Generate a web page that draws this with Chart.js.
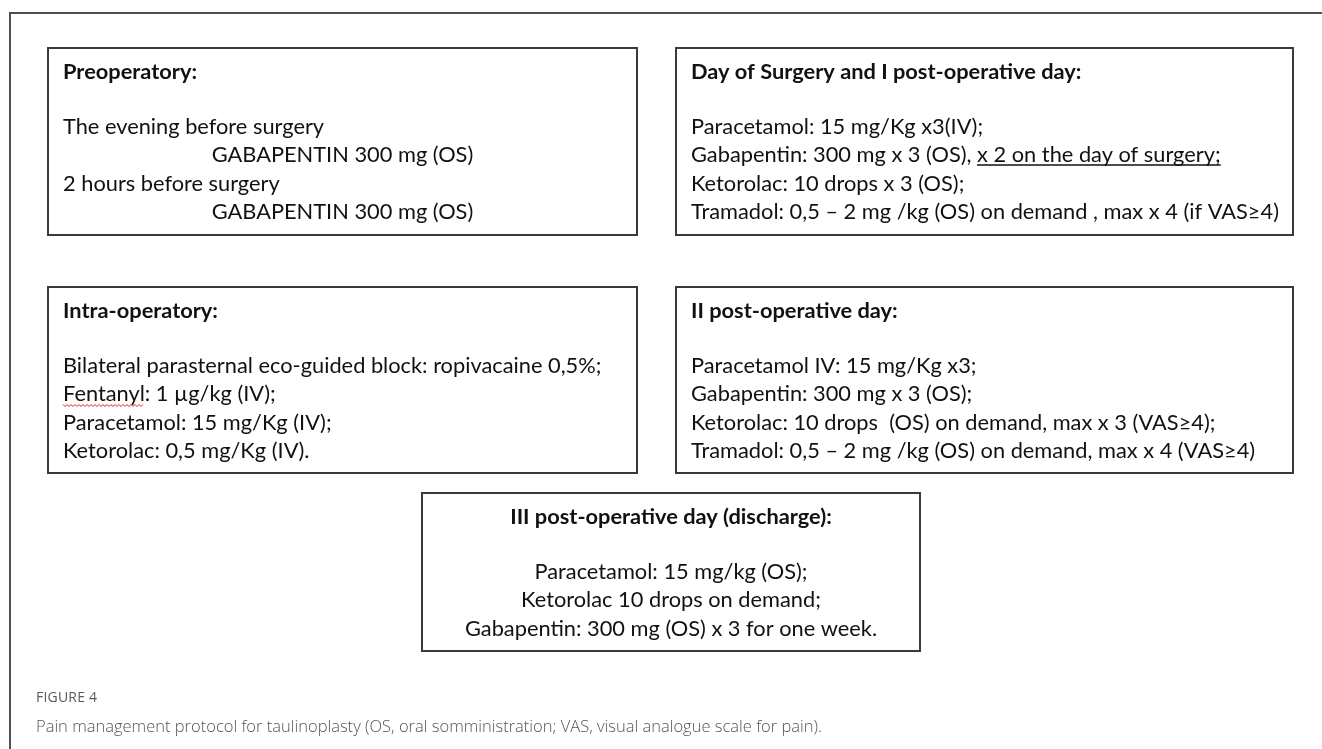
<!DOCTYPE html>
<html><head><meta charset="utf-8">
<script src="https://cdn.jsdelivr.net/npm/chart.js@4/dist/chart.umd.min.js"></script>
<style>
html,body{margin:0;padding:0;background:#fff;width:1322px;height:749px;overflow:hidden;}
#frame{position:absolute;left:9px;top:12px;width:1313px;height:737px;border-top:2px solid #505050;border-left:2px solid #505050;box-sizing:border-box;}
canvas{position:absolute;left:0;top:0;}
#figlabel{position:absolute;left:36px;top:687px;font-family:'Open Sans',sans-serif;font-size:14px;color:#5a5a5a;letter-spacing:0.2px;white-space:nowrap;}
#figcap{position:absolute;left:36px;top:714px;font-family:'Open Sans',sans-serif;font-weight:300;font-size:16.5px;color:#555;white-space:nowrap;}
</style></head>
<body>
<div id="frame"></div>
<canvas id="c" width="1322" height="749"></canvas>
<div id="figlabel"></div>
<div id="figcap"></div>
<script>
// ---- content (data) ----
const boxTitles = [
  "Preoperatory:",
  "Day of Surgery and I post-operative day:",
  "Intra-operatory:",
  "II post-operative day:",
  "III post-operative day (discharge):"
];
const boxLines = [
  ["The evening before surgery", "GABAPENTIN 300 mg (OS)", "2 hours before surgery", "GABAPENTIN 300 mg (OS)"],
  ["Paracetamol: 15 mg/Kg x3(IV);", "Gabapentin: 300 mg x 3 (OS), x 2 on the day of surgery;", "Ketorolac: 10 drops x 3 (OS);", "Tramadol: 0,5 \u2013 2 mg /kg (OS) on demand , max x 4 (if VAS\u22654)"],
  ["Bilateral parasternal eco-guided block: ropivacaine 0,5%;", "Fentanyl: 1 \u00b5g/kg (IV);", "Paracetamol: 15 mg/Kg (IV);", "Ketorolac: 0,5 mg/Kg (IV)."],
  ["Paracetamol IV: 15 mg/Kg x3;", "Gabapentin: 300 mg x 3 (OS);", "Ketorolac: 10 drops  (OS) on demand, max x 3 (VAS\u22654);", "Tramadol: 0,5 \u2013 2 mg /kg (OS) on demand, max x 4 (VAS\u22654)"],
  ["Paracetamol: 15 mg/kg (OS);", "Ketorolac 10 drops on demand;", "Gabapentin: 300 mg (OS) x 3 for one week."]
];
const underlineMarks = [{box: 1, line: 1, prefix: "Gabapentin: 300 mg x 3 (OS), "}];
const spellMarks = [{box: 2, line: 1, word: "Fentanyl"}];
const figureLabel = "FIGURE 4";
const figureCaption = "Pain management protocol for taulinoplasty (OS, oral somministration; VAS, visual analogue scale for pain).";

// ---- layout (positions / styles) ----
const boxFrames = [
  [48, 48, 637, 235],
  [676, 48, 1293, 235],
  [48, 287, 637, 473],
  [676, 287, 1293, 473],
  [422, 493, 920, 651]
];
const titleAlign = ["left", "left", "left", "left", "center"];
const lineAlign = [
  ["left", "center", "left", "center"],
  ["left", "left", "left", "left"],
  ["left", "left", "left", "left"],
  ["left", "left", "left", "left"],
  ["center", "center", "center"]
];
const FONT_SIZE = 21.8, LINE_GAP = 28.5, PAD = 15, TITLE_BASE = 30.5, BODY_OFFSET = 55;
const FONT_FAMILY = "Lato, 'Noto Sans', sans-serif";

document.getElementById('figlabel').textContent = figureLabel;
document.getElementById('figcap').textContent = figureCaption;

const boxPlugin = {
  id: 'boxes',
  afterDraw(chart) {
    const ctx = chart.ctx, xs = chart.scales.x, ys = chart.scales.y;
    ctx.save();
    boxFrames.forEach((f, i) => {
      const x0 = xs.getPixelForValue(f[0]), x1 = xs.getPixelForValue(f[2]);
      const y0 = ys.getPixelForValue(f[1]), y1 = ys.getPixelForValue(f[3]);
      ctx.strokeStyle = '#3a3a3a';
      ctx.lineWidth = 2;
      ctx.strokeRect(x0, y0, x1 - x0, y1 - y0);
      const cx = (x0 + x1) / 2;
      ctx.fillStyle = '#111';
      ctx.textBaseline = 'alphabetic';
      // title
      ctx.font = 'bold ' + FONT_SIZE + 'px ' + FONT_FAMILY;
      const tY = ys.getPixelForValue(f[1] + TITLE_BASE);
      if (titleAlign[i] === 'center') { ctx.textAlign = 'center'; ctx.fillText(boxTitles[i], cx, tY); }
      else { ctx.textAlign = 'left'; ctx.fillText(boxTitles[i], x0 + PAD, tY); }
      // body
      ctx.font = FONT_SIZE + 'px ' + FONT_FAMILY;
      boxLines[i].forEach((txt, j) => {
        const by = ys.getPixelForValue(f[1] + TITLE_BASE + BODY_OFFSET + LINE_GAP * j);
        let lx;
        if (lineAlign[i][j] === 'center') { lx = cx - ctx.measureText(txt).width / 2; }
        else { lx = x0 + PAD; }
        ctx.textAlign = 'left';
        ctx.fillStyle = '#111';
        ctx.fillText(txt, lx, by);
        underlineMarks.filter(m => m.box === i && m.line === j).forEach(m => {
          const sx = lx + ctx.measureText(m.prefix).width;
          const ex = lx + ctx.measureText(txt).width;
          ctx.strokeStyle = '#111'; ctx.lineWidth = 1.3;
          ctx.beginPath(); ctx.moveTo(sx, by + 3); ctx.lineTo(ex, by + 3); ctx.stroke();
        });
        spellMarks.filter(m => m.box === i && m.line === j).forEach(m => {
          const st = txt.indexOf(m.word);
          const sx = lx + ctx.measureText(txt.slice(0, st)).width;
          const ex = sx + ctx.measureText(m.word).width;
          ctx.strokeStyle = '#e02020'; ctx.lineWidth = 1;
          ctx.beginPath();
          let k = 0;
          for (let x = sx; x <= ex; x += 2) { ctx.lineTo(x, by + 4 + (k % 2 ? 1.5 : -0.5)); k++; }
          ctx.stroke();
        });
      });
    });
    ctx.restore();
  }
};

new Chart(document.getElementById('c'), {
  type: 'scatter',
  data: { datasets: [] },
  options: {
    responsive: false,
    animation: false,
    events: [],
    layout: { padding: 0 },
    plugins: { legend: { display: false }, tooltip: { enabled: false }, title: { display: false } },
    scales: {
      x: { type: 'linear', min: 0, max: 1322, display: false },
      y: { type: 'linear', min: 0, max: 749, reverse: true, display: false }
    }
  },
  plugins: [boxPlugin]
});
</script>
</body></html>
